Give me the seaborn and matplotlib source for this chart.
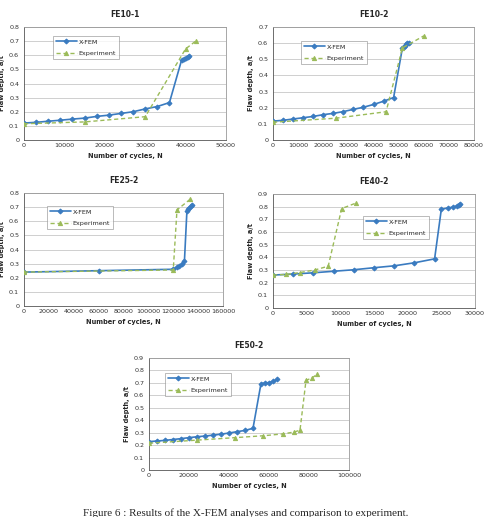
import matplotlib
matplotlib.use("Agg")
import matplotlib.pyplot as plt
import seaborn as sns
import pandas as pd
import numpy as np

# ---- data ----
fe10_1_xfem_x = [0, 3000, 6000, 9000, 12000, 15000, 18000, 21000, 24000, 27000, 30000, 33000, 36000, 39000, 39500, 40000, 40500, 40800]
fe10_1_xfem_y = [0.12, 0.125, 0.133, 0.14, 0.148, 0.155, 0.167, 0.176, 0.188, 0.2, 0.22, 0.237, 0.265, 0.565, 0.575, 0.582, 0.59, 0.597]
fe10_1_exp_x = [0, 15000, 30000, 40000, 42500]
fe10_1_exp_y = [0.115, 0.128, 0.165, 0.645, 0.70]

fe10_2_xfem_x = [0, 4000, 8000, 12000, 16000, 20000, 24000, 28000, 32000, 36000, 40000, 44000, 48000, 51500, 52000, 52500, 53000, 53500, 54000]
fe10_2_xfem_y = [0.117, 0.122, 0.13, 0.138, 0.146, 0.157, 0.165, 0.176, 0.19, 0.203, 0.22, 0.24, 0.263, 0.57, 0.578, 0.585, 0.592, 0.598, 0.602]
fe10_2_exp_x = [0, 25000, 45000, 51500, 60000]
fe10_2_exp_y = [0.11, 0.135, 0.175, 0.57, 0.645]

fe25_2_xfem_x = [0, 60000, 120000, 123000, 125000, 127000, 129000, 131000, 132000, 133000, 134000, 135000]
fe25_2_xfem_y = [0.24, 0.25, 0.26, 0.275, 0.285, 0.3, 0.32, 0.675, 0.685, 0.695, 0.705, 0.718]
fe25_2_exp_x = [0, 120000, 123000, 133500]
fe25_2_exp_y = [0.24, 0.255, 0.68, 0.755]

fe40_2_xfem_x = [0, 3000, 6000, 9000, 12000, 15000, 18000, 21000, 24000, 25000, 26000, 26800, 27300, 27600, 27800]
fe40_2_xfem_y = [0.26, 0.268, 0.278, 0.29, 0.302, 0.318, 0.333, 0.357, 0.388, 0.78, 0.79, 0.797, 0.805, 0.81, 0.818]
fe40_2_exp_x = [0, 2000, 4000, 6200, 8200, 10200, 12300]
fe40_2_exp_y = [0.26, 0.265, 0.28, 0.3, 0.33, 0.785, 0.828]

fe50_2_xfem_x = [0, 4000, 8000, 12000, 16000, 20000, 24000, 28000, 32000, 36000, 40000, 44000, 48000, 52000, 56000, 58000, 60000, 62000, 64000]
fe50_2_xfem_y = [0.228, 0.233, 0.238, 0.245, 0.252, 0.26, 0.267, 0.273, 0.28, 0.288, 0.297, 0.308, 0.318, 0.335, 0.695, 0.698, 0.703, 0.712, 0.728]
fe50_2_exp_x = [0, 24000, 43000, 57000, 67000, 72500, 75500, 78500, 81500, 84000]
fe50_2_exp_y = [0.215, 0.24, 0.26, 0.275, 0.29, 0.305, 0.32, 0.72, 0.74, 0.768]

titles = ["FE10-1", "FE10-2", "FE25-2", "FE40-2", "FE50-2"]
series_names = ["X-FEM", "Experiment"]

BLUE = "#3A7BC0"
GREEN = "#9BBB59"

sns.set_style("white")
plt.rcParams["font.family"] = ["DejaVu Sans"]

fig = plt.figure(figsize=(4.92, 5.17), dpi=100)

W, H = 492.0, 517.0
def rect(l, r, t, b):
    return [l / W, 1 - b / H, (r - l) / W, (b - t) / H]

panels = [
    dict(rect=rect(24, 226, 27, 140), xf=(fe10_1_xfem_x, fe10_1_xfem_y), ex=(fe10_1_exp_x, fe10_1_exp_y),
         xmax=50000, xstep=10000, ymax=0.8, leg=(53, 36, 107, 61)),
    dict(rect=rect(273, 474, 27, 140), xf=(fe10_2_xfem_x, fe10_2_xfem_y), ex=(fe10_2_exp_x, fe10_2_exp_y),
         xmax=80000, xstep=10000, ymax=0.7, leg=(301, 41, 355, 66)),
    dict(rect=rect(24, 223, 193, 306), xf=(fe25_2_xfem_x, fe25_2_xfem_y), ex=(fe25_2_exp_x, fe25_2_exp_y),
         xmax=160000, xstep=20000, ymax=0.8, leg=(47, 206, 103, 236)),
    dict(rect=rect(273, 475, 194, 308), xf=(fe40_2_xfem_x, fe40_2_xfem_y), ex=(fe40_2_exp_x, fe40_2_exp_y),
         xmax=30000, xstep=5000, ymax=0.9, leg=(363, 216, 418, 240)),
    dict(rect=rect(149, 349, 358, 470), xf=(fe50_2_xfem_x, fe50_2_xfem_y), ex=(fe50_2_exp_x, fe50_2_exp_y),
         xmax=100000, xstep=20000, ymax=0.9, leg=(165, 373, 219, 398)),
]

for p, title in zip(panels, titles):
    ax = fig.add_axes(p["rect"])
    df = pd.concat([
        pd.DataFrame({"x": p["xf"][0], "y": p["xf"][1], "s": series_names[0]}),
        pd.DataFrame({"x": p["ex"][0], "y": p["ex"][1], "s": series_names[1]}),
    ], ignore_index=True)
    sns.lineplot(data=df[df.s == "X-FEM"], x="x", y="y", ax=ax, color=BLUE, marker="D",
                 markersize=2.5, markeredgecolor=BLUE, linewidth=1.2, sort=False,
                 label="X-FEM", zorder=3, legend=False)
    sns.lineplot(data=df[df.s == "Experiment"], x="x", y="y", ax=ax, color=GREEN, marker="^",
                 markersize=3.0, markeredgecolor=GREEN, linewidth=1.0, linestyle=(0, (3, 2)),
                 sort=False, label="Experiment", zorder=3, legend=False)
    ax.set_xlim(0, p["xmax"])
    ax.set_ylim(0, p["ymax"])
    ax.set_xticks(np.arange(0, p["xmax"] + 1, p["xstep"]))
    ax.set_yticks(np.round(np.arange(0, p["ymax"] + 0.001, 0.1), 1))
    ax.set_yticklabels(["0"] + [f"{v:.1f}" for v in np.arange(0.1, p["ymax"] + 0.001, 0.1)])
    ax.yaxis.grid(True, color="#c8c8c8", linewidth=0.6)
    ax.set_axisbelow(True)
    ax.tick_params(axis="both", labelsize=4.6, colors="#333333", length=2, width=0.5, pad=1.5)
    ax.tick_params(axis="x", length=0, pad=2.5)
    for side in ["top", "right", "bottom"]:
        ax.spines[side].set_color("#999999")
        ax.spines[side].set_linewidth(0.6)
    ax.spines["left"].set_color("#555555")
    ax.spines["left"].set_linewidth(0.6)
    ax.spines["bottom"].set_color("#555555")
    ax.set_title(title, fontsize=5.5, fontweight="bold", pad=7)
    ax.set_xlabel("Number of cycles, N", fontsize=4.8, fontweight="bold", labelpad=3.5)
    ax.set_ylabel("Flaw depth, a/t", fontsize=4.8, fontweight="bold", labelpad=3)
    l, t, r, b = p["leg"]
    leg = ax.legend(loc="upper left", bbox_to_anchor=((l - p["rect"][0] * W) / ((p["rect"][2]) * W),
                                                      (1 - (t - (H - (p["rect"][1] + p["rect"][3]) * H)) / (p["rect"][3] * H))),
                    fontsize=4.6, frameon=True, fancybox=False, borderpad=0.5, labelspacing=0.9,
                    handlelength=3.2, handletextpad=0.3, borderaxespad=0)
    leg.get_frame().set_edgecolor("#888888")
    leg.get_frame().set_linewidth(0.5)

fig.text(0.5, 1 - 513 / H, "Figure 6 : Results of the X-FEM analyses and comparison to experiment.",
         ha="center", va="center", fontsize=8.0, family=["Liberation Serif"])

fig.savefig("out.png", dpi=100)
